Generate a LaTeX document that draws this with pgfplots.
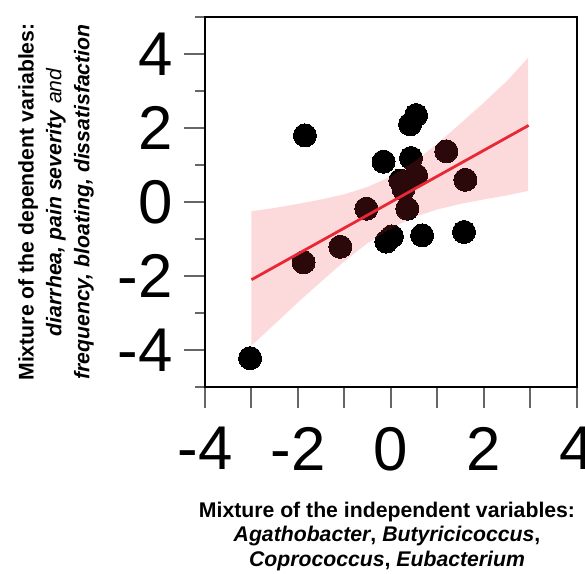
\documentclass[border=0pt]{standalone}
\usepackage{pgfplots}
\pgfplotsset{compat=1.18}
\usepackage{fontspec}
\setmainfont{Liberation Sans}
\definecolor{regred}{RGB}{232,40,52}
\definecolor{bandred}{RGB}{240,50,62}
\begin{document}
\begin{tikzpicture}
\begin{axis}[
  at={(0,0)}, anchor=south west,
  scale only axis, width=372bp, height=370bp,
  clip mode=individual,
  xmin=-4, xmax=4, ymin=-5, ymax=5,
  xtick={-4,-3,-2,-1,0,1,2,3,4}, xticklabels={-4,,-2,,0,,2,,4},
  ytick={-4,-2,0,2,4}, yticklabels={-4,-2,0,2,4},
  minor ytick={-5,-3,-1,1,3,5},
  xtick pos=left, ytick pos=left, tick align=outside,
  major tick length=21bp, minor tick length=10bp,
  tick style={line width=2bp, color=black!60},
  axis line style={line width=2.2bp, black},
  ticklabel style={font=\fontsize{62}{62}\selectfont, inner sep=0pt},
  xticklabel style={anchor=north, yshift=-19bp},
  yticklabel style={anchor=east, xshift=-11bp},
]
% data points
\addplot[only marks, mark=*, mark size=11.5bp, color=black,
  mark options={fill=black, draw=black, line width=0pt}] coordinates {
  (-3.03,-4.22) (-1.85,1.80) (-1.88,-1.63) (-1.09,-1.21) (-0.53,-0.18)
  (-0.16,1.09) (-0.10,-1.07) (0.02,-0.93) (0.20,0.58) (0.27,0.36)
  (0.35,-0.18) (0.43,1.19) (0.41,2.10) (0.54,2.35) (0.54,0.72)
  (0.67,-0.90) (1.19,1.37) (1.60,0.60) (1.57,-0.81)
};
% confidence band
\addplot[draw=none, fill=bandred, fill opacity=0.18] coordinates {
  (-3,-0.25) (-2.5,-0.16) (-2,-0.05) (-1.5,0.07) (-1,0.21) (-0.5,0.41)
  (0,0.69) (0.5,1.09) (1,1.58) (1.5,2.13) (2,2.69) (2.5,3.28) (2.95,3.90)
  (2.95,0.30) (2.5,0.18) (2,0.07) (1.5,-0.05) (1,-0.20) (0.5,-0.41)
  (0,-0.71) (-0.5,-1.11) (-1,-1.60) (-1.5,-2.15) (-2,-2.71) (-2.5,-3.30)
  (-3,-3.88)
} -- cycle;
% regression line
\addplot[regred, line width=2.8bp] coordinates {(-3,-2.10) (2.96,2.07)};
\end{axis}
\node[rotate=90, anchor=north, align=center, inner sep=0pt,
  font=\fontsize{21.3}{28}\selectfont] at (-187bp,185bp)
  {\textbf{Mixture of the dependent variables:}\\
   \textbf{\textit{diarrhea, pain severity}} \textit{and}\\
   \textbf{\textit{frequency, bloating, dissatisfaction}}};
\node[anchor=north, align=center, inner sep=0pt,
  font=\fontsize{21.3}{25}\selectfont] at (182bp,-114.5bp)
  {\textbf{Mixture of the independent variables:}\\
   \textbf{\textit{Agathobacter}, \textit{Butyricicoccus},}\\
   \textbf{\textit{Coprococcus}, \textit{Eubacterium}}};
\pgfresetboundingbox
\path[use as bounding box] (-205bp,-187bp) rectangle (380bp,387bp);
\end{tikzpicture}
\end{document}
